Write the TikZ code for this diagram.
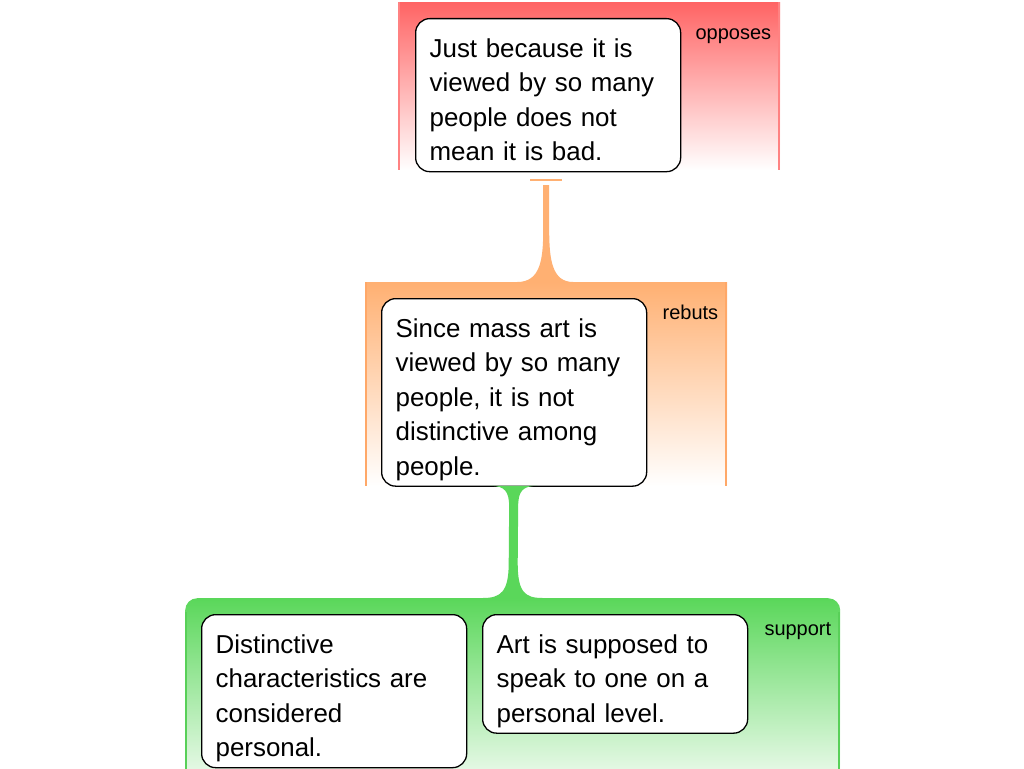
\documentclass[tikz,border=0pt]{standalone}
\usepackage{fontspec}
\setmainfont{Liberation Sans}
\usetikzlibrary{calc}
\definecolor{cRed}{RGB}{255,100,100}
\definecolor{cRedEdge}{RGB}{255,130,130}
\definecolor{cOrg}{RGB}{255,176,114}
\definecolor{cOrgEdge}{RGB}{255,168,104}
\definecolor{cGrn}{RGB}{90,215,90}
\definecolor{cGrnEdge}{RGB}{88,208,88}
\newcommand\fstrut{\rule{0pt}{38.5pt}}
\newcommand\lstrut{\rule[-11pt]{0pt}{11pt}}
\tikzset{
  claim/.style={draw=black, line width=1.3pt, rounded corners=14pt, fill=white,
    align=left, text width=237pt, inner xsep=14pt, inner ysep=0pt,
    anchor=north west, font=\fontsize{25.9}{34.5}\selectfont},
  grp/.style={inner sep=0pt, anchor=north west, draw=none},
  lbl/.style={font=\fontsize{20}{24}\selectfont, anchor=base east, inner sep=0pt},
  edge/.style={line width=2pt}
}
\begin{document}
\begin{tikzpicture}[x=1pt,y=-1pt]
\useasboundingbox (0,0) rectangle (1024,768);
\fill[white] (0,0) rectangle (1024,768);
% groups
\node[grp, top color=cRed, bottom color=white, minimum width=382pt, minimum height=168pt] (gR) at (398,2) {};
\node[grp, top color=cOrg, bottom color=white, minimum width=362pt, minimum height=204pt] (gO) at (365,282) {};
\node[grp, top color=cGrn, bottom color=white, rounded corners=12pt, minimum width=655pt, minimum height=205pt] (gG) at (185,598) {};
\draw[edge, cRedEdge] ($(gR.north west)+(1,0)$) -- ($(gR.south west)+(1,0)$);
\draw[edge, cRedEdge] ($(gR.north east)+(-1,0)$) -- ($(gR.south east)+(-1,0)$);
\draw[edge, cOrgEdge] ($(gO.north west)+(1,0)$) -- ($(gO.south west)+(1,0)$);
\draw[edge, cOrgEdge] ($(gO.north east)+(-1,0)$) -- ($(gO.south east)+(-1,0)$);
\draw[edge, cGrnEdge] ($(gG.north west)+(1,14)$) -- ($(gG.south west)+(1,0)$);
\draw[edge, cGrnEdge] ($(gG.north east)+(-1,14)$) -- ($(gG.south east)+(-1,0)$);
% labels
\node[lbl] (lR) at ($(gR.north east)+(-9,38)$) {opposes};
\node[lbl] (lO) at ($(gO.north east)+(-9,37.5)$) {rebuts};
\node[lbl] (lG) at ($(gG.north east)+(-9,37.5)$) {support};
% claims
\node[claim] (n1) at (415,18) {\fstrut Just because it is\\ viewed by so many\\ people does not\\ mean it is bad.\lstrut};
\node[claim] (n2) at (381,298) {\fstrut Since mass art is\\ viewed by so many\\ people, it is not\\ distinctive among\\ people.\lstrut};
\node[claim] (n3) at (201,614) {\fstrut Distinctive\\ characteristics are\\ considered\\ personal.\lstrut};
\node[claim] (n4) at (482,614) {\fstrut Art is supposed to\\ speak to one on a\\ personal level.\lstrut};
% orange connector (rebuts -> n1)
\coordinate (B) at (gO.north);
\fill[cOrg] ($(B)+(-29,0)$) .. controls ($(B)+(-6,0)$) and ($(B)+(-3,-22)$) .. ($(B)+(-3,-52)$)
  -- ($(B)+(-3,-97)$) -- ($(B)+(3,-97)$) -- ($(B)+(3,-52)$)
  .. controls ($(B)+(3,-22)$) and ($(B)+(6,0)$) .. ($(B)+(27,0)$) -- cycle;
\draw[cOrg, line width=2pt] ($(B)+(-16,-102)$) -- ($(B)+(16,-102)$);
% green connector (support -> n2)
\coordinate (T) at (n2.south);
\coordinate (G) at (gG.north);
\fill[cGrn] ($(T)+(-24,-1)$) .. controls ($(T)+(-9,-1)$) and ($(T)+(-5,5)$) .. ($(T)+(-5,20)$)
  -- ($(G)+(-4,-35)$) .. controls ($(G)+(-4,-6)$) and ($(G)+(-12,0)$) .. ($(G)+(-30,0)$)
  -- ($(G)+(30,0)$) .. controls ($(G)+(12,0)$) and ($(G)+(5,-6)$) .. ($(G)+(5,-35)$)
  -- ($(T)+(4,20)$) .. controls ($(T)+(4,5)$) and ($(T)+(8,-1)$) .. ($(T)+(23,-1)$) -- cycle;
\end{tikzpicture}
\end{document}
